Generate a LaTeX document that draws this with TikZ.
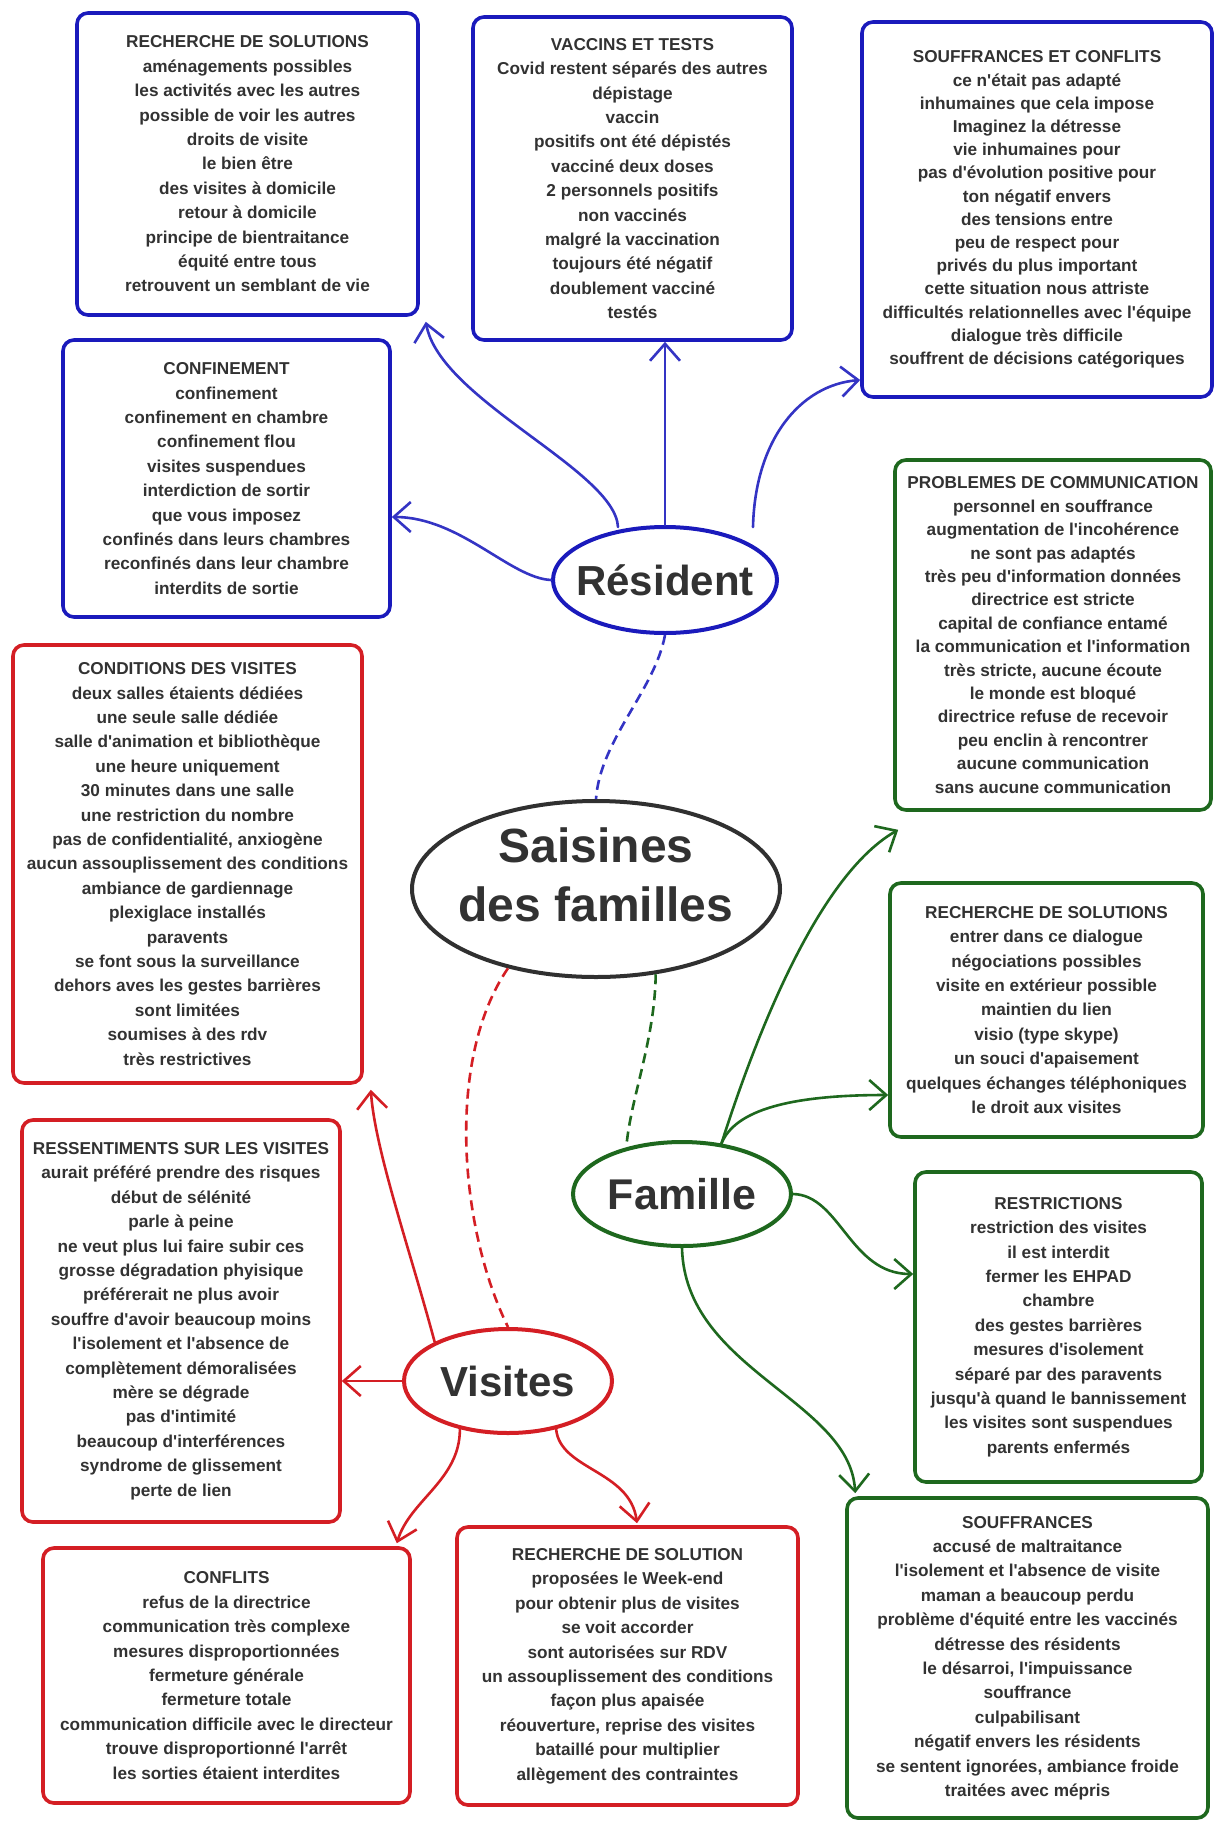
\documentclass[tikz,border=0pt]{standalone}
\usepackage{fontspec}
\newfontfamily\mapfont{Liberation Sans}
\usetikzlibrary{arrows.meta,shapes.geometric}

\definecolor{bluebox}{RGB}{26,26,188}
\definecolor{bluelink}{RGB}{52,52,196}
\definecolor{redbox}{RGB}{212,30,36}
\definecolor{greenbox}{RGB}{30,104,30}
\definecolor{hubgray}{RGB}{48,48,48}
\definecolor{txt}{RGB}{50,50,50}

\newcommand{\boxfont}{\mapfont\bfseries\fontsize{17.2}{24.4}\selectfont}

\tikzset{
  topic/.style={draw, line width=3.6pt, rounded corners=11pt, fill=white,
    align=center, inner sep=0pt, font=\boxfont, text=txt},
  bluetopic/.style={topic, draw=bluebox},
  redtopic/.style={topic, draw=redbox},
  greentopic/.style={topic, draw=greenbox},
  hub/.style={ellipse, line width=4pt, fill=white, inner sep=0pt},
  hubtext/.style={font=\mapfont\bfseries\fontsize{#1}{59}\selectfont,
    text=txt, align=center, inner sep=0pt},
  link/.style={line width=2.6pt, line cap=round,
    -{Straight Barb[length=17pt,width=30pt,line width=2.6pt]}},
  dlink/.style={line width=2.6pt, dash pattern=on 10pt off 6pt}
}

\begin{document}
\begin{tikzpicture}[x=1pt,y=-1pt]
\useasboundingbox[fill=white] (0,0) rectangle (1214,1822);

% ---- topic boxes around "Résident"
\node[bluetopic, minimum width=341pt, minimum height=302pt] (rsb) at (247.5,164)
  {RECHERCHE DE SOLUTIONS\\aménagements possibles\\les activités avec les autres\\possible de voir les autres\\droits de visite\\le bien être\\des visites à domicile\\retour à domicile\\principe de bientraitance\\équité entre tous\\retrouvent un semblant de vie};

\node[bluetopic, minimum width=319pt, minimum height=323pt] (vt) at (632.5,178.5)
  {VACCINS ET TESTS\\Covid restent séparés des autres\\dépistage\\vaccin\\positifs ont été dépistés\\vacciné deux doses\\2 personnels positifs\\non vaccinés\\malgré la vaccination\\toujours été négatif\\doublement vacciné\\testés};

\node[bluetopic, minimum width=350pt, minimum height=375pt,
      font=\mapfont\bfseries\fontsize{17.2}{23.2}\selectfont] (sc) at (1037,209.5)
  {SOUFFRANCES ET CONFLITS\\ce n'était pas adapté\\inhumaines que cela impose\\Imaginez la détresse\\vie inhumaines pour\\pas d'évolution positive pour\\ton négatif envers\\des tensions entre\\peu de respect pour\\privés du plus important\\cette situation nous attriste\\difficultés relationnelles avec l'équipe\\dialogue très difficile\\souffrent de décisions catégoriques};

\node[bluetopic, minimum width=327pt, minimum height=277pt] (conf) at (226.5,478.5)
  {CONFINEMENT\\confinement\\confinement en chambre\\confinement flou\\visites suspendues\\interdiction de sortir\\que vous imposez\\confinés dans leurs chambres\\reconfinés dans leur chambre\\interdits de sortie};

% ---- topic boxes around "Famille"
\node[greentopic, minimum width=316pt, minimum height=350pt,
      font=\mapfont\bfseries\fontsize{17.2}{23.4}\selectfont] (pc) at (1053,635)
  {PROBLEMES DE COMMUNICATION\\personnel en souffrance\\augmentation de l'incohérence\\ne sont pas adaptés\\très peu d'information données\\directrice est stricte\\capital de confiance entamé\\la communication et l'information\\très stricte, aucune écoute\\le monde est bloqué\\directrice refuse de recevoir\\peu enclin à rencontrer\\aucune communication\\sans aucune communication};

\node[greentopic, minimum width=313pt, minimum height=254pt] (rsg) at (1046.5,1010)
  {RECHERCHE DE SOLUTIONS\\entrer dans ce dialogue\\négociations possibles\\visite en extérieur possible\\maintien du lien\\visio (type skype)\\un souci d'apaisement\\quelques échanges téléphoniques\\le droit aux visites};

\node[greentopic, minimum width=287pt, minimum height=310pt] (restr) at (1058.5,1327)
  {RESTRICTIONS\\restriction des visites\\il est interdit\\fermer les EHPAD\\chambre\\des gestes barrières\\mesures d'isolement\\séparé par des paravents\\jusqu'à quand le bannissement\\les visites sont suspendues\\parents enfermés};

\node[greentopic, minimum width=361pt, minimum height=320pt] (souf) at (1027.5,1658)
  {SOUFFRANCES\\accusé de maltraitance\\l'isolement et l'absence de visite\\maman a beaucoup perdu\\problème d'équité entre les vaccinés\\détresse des résidents\\le désarroi, l'impuissance\\souffrance\\culpabilisant\\négatif envers les résidents\\se sentent ignorées, ambiance froide\\traitées avec mépris};

% ---- topic boxes around "Visites"
\node[redtopic, minimum width=349pt, minimum height=438pt] (cdv) at (187.5,864)
  {CONDITIONS DES VISITES\\deux salles étaients dédiées\\une seule salle dédiée\\salle d'animation et bibliothèque\\une heure uniquement\\30 minutes dans une salle\\une restriction du nombre\\pas de confidentialité, anxiogène\\aucun assouplissement des conditions\\ambiance de gardiennage\\plexiglace installés\\paravents\\se font sous la surveillance\\dehors aves les gestes barrières\\sont limitées\\soumises à des rdv\\très restrictives};

\node[redtopic, minimum width=318pt, minimum height=402pt] (rsv) at (181,1321)
  {RESSENTIMENTS SUR LES VISITES\\aurait préféré prendre des risques\\début de sélénité\\parle à peine\\ne veut plus lui faire subir ces\\grosse dégradation phyisique\\préférerait ne plus avoir\\souffre d'avoir beaucoup moins\\l'isolement et l'absence de\\complètement démoralisées\\mère se dégrade\\pas d'intimité\\beaucoup d'interférences\\syndrome de glissement\\perte de lien};

\node[redtopic, minimum width=367pt, minimum height=255pt] (confl) at (226.5,1675.5)
  {CONFLITS\\refus de la directrice\\communication très complexe\\mesures disproportionnées\\fermeture générale\\fermeture totale\\communication difficile avec le directeur\\trouve disproportionné l'arrêt\\les sorties étaient interdites};

\node[redtopic, minimum width=341pt, minimum height=278pt] (rsr) at (627.5,1666)
  {RECHERCHE DE SOLUTION\\proposées le Week-end\\pour obtenir plus de visites\\se voit accorder\\sont autorisées sur RDV\\un assouplissement des conditions\\façon plus apaisée\\réouverture, reprise des visites\\bataillé pour multiplier\\allègement des contraintes};

% ---- central ellipses
\node[hub, draw=hubgray, minimum width=368pt, minimum height=176pt,
      label={[hubtext=48, yshift=14pt]center:Saisines\\des familles}] (sais) at (596,889) {};
\node[hub, draw=bluebox, minimum width=224pt, minimum height=106pt,
      label={[hubtext=42]center:Résident}] (res) at (665,580) {};
\node[hub, draw=greenbox, minimum width=218pt, minimum height=104pt,
      label={[hubtext=43]center:Famille}] (fam) at (682,1194) {};
\node[hub, draw=redbox, minimum width=208pt, minimum height=104pt,
      label={[hubtext=42]center:Visites}] (vis) at (508,1381) {};

% ---- dashed links from the centre
\draw[dlink, draw=bluelink] (res.south) .. controls (655,690) and (600,740) .. (sais.north);
\draw[dlink, draw=greenbox] (sais.305) .. controls (655,1040) and (630,1100) .. (fam.140);
\draw[dlink, draw=redbox] (sais.222) .. controls (445,1060) and (460,1230) .. (vis.north);

% ---- Résident branches
\draw[link, draw=bluelink] ([shift={(-47,-53)}]res.center) .. controls (615,470) and (440,400) .. ([shift={(6,5)}]rsb.south east);
\draw[link, draw=bluelink] (res.north) -- (res.north |- vt.south);
\draw[link, draw=bluelink] ([shift={(88,-53)}]res.center) .. controls (755,440) and (800,385) .. ([shift={(0,170.5)}]sc.west);
\draw[link, draw=bluelink] (res.west) .. controls (510,578) and (460,517) .. ([shift={(0,38.5)}]conf.east);

% ---- Famille branches
\draw[link, draw=greenbox] (fam.52) .. controls (745,1070) and (810,880) .. ([shift={(5,18)}]pc.south west);
\draw[link, draw=greenbox] (fam.52) .. controls (735,1110) and (790,1095) .. ([shift={(0,85)}]rsg.west);
\draw[link, draw=greenbox] (fam.east) .. controls (840,1195) and (850,1274) .. ([shift={(0,-53)}]restr.west);
\draw[link, draw=greenbox] (fam.south) .. controls (685,1370) and (850,1400) .. ([shift={(10,-3)}]souf.north west);

% ---- Visites branches
\draw[link, draw=redbox] (vis.152) .. controls (410,1250) and (375,1150) .. ([shift={(7,5)}]cdv.south east);
\draw[link, draw=redbox] (vis.west) -- (rsv.east |- vis.west);
\draw[link, draw=redbox] (vis.225) .. controls (460,1480) and (410,1500) .. ([shift={(-15,-3)}]confl.north east);
\draw[link, draw=redbox] (vis.315) .. controls (560,1470) and (630,1470) .. ([shift={(9.5,-2)}]rsr.north);

\end{tikzpicture}
\end{document}
